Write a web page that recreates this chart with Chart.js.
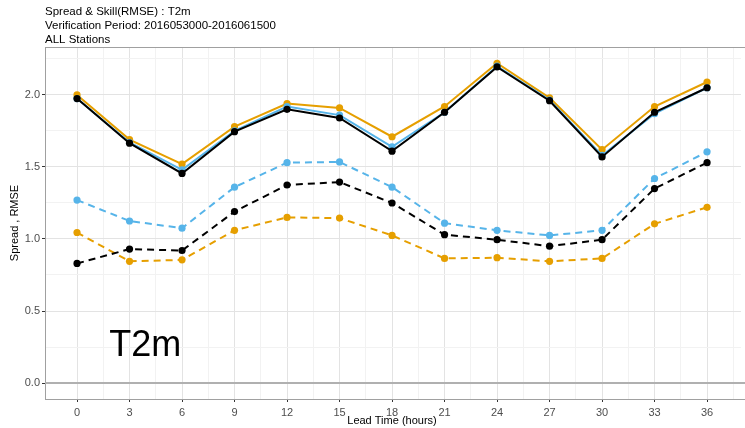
<!DOCTYPE html>
<html>
<head>
<meta charset="utf-8">
<script src="https://cdn.jsdelivr.net/npm/chart.js@4.4.1/dist/chart.umd.min.js"></script>
<style>
  html, body { margin: 0; padding: 0; background: #ffffff; }
  canvas { display: block; }
</style>
</head>
<body>
<canvas id="c" width="745" height="428"></canvas>
<script>
// ---- data ----
const leadTimes = [0, 3, 6, 9, 12, 15, 18, 21, 24, 27, 30, 33, 36];
const xTickLabels = ["0", "3", "6", "9", "12", "15", "18", "21", "24", "27", "30", "33", "36"];
const yTickValues = [0.0, 0.5, 1.0, 1.5, 2.0];
const yTickLabels = ["0.0", "0.5", "1.0", "1.5", "2.0"];

const rmseOrange   = [2.00, 1.69, 1.52, 1.78, 1.94, 1.91, 1.71, 1.92, 2.22, 1.98, 1.62, 1.92, 2.09];
const rmseBlue     = [1.975, 1.67, 1.48, 1.75, 1.92, 1.86, 1.64, 1.88, 2.20, 1.965, 1.58, 1.87, 2.05];
const rmseBlack    = [1.975, 1.665, 1.455, 1.745, 1.90, 1.84, 1.61, 1.88, 2.195, 1.96, 1.57, 1.88, 2.05];
const spreadBlue   = [1.27, 1.125, 1.075, 1.36, 1.53, 1.535, 1.36, 1.11, 1.06, 1.025, 1.06, 1.42, 1.605];
const spreadBlack  = [0.83, 0.93, 0.92, 1.19, 1.375, 1.395, 1.25, 1.03, 0.995, 0.95, 0.995, 1.35, 1.53];
const spreadOrange = [1.045, 0.845, 0.855, 1.06, 1.15, 1.145, 1.025, 0.865, 0.87, 0.845, 0.865, 1.105, 1.22];

const titleLines = ["Spread & Skill(RMSE) : T2m", "Verification Period: 2016053000-2016061500", "ALL Stations"];
const xTitle = "Lead Time (hours)";
const yTitle = "Spread , RMSE";
const panelLabel = "T2m";

// ---- styling ----
const ORANGE = "#E69F00", BLUE = "#56B4E9", BLACK = "#000000";
const FONT = "'Liberation Sans', Arial, sans-serif";

function pts(arr) { return leadTimes.map((x, i) => ({ x: x, y: arr[i] })); }
function ds(label, arr, color, dashed) {
  return {
    label: label,
    data: pts(arr),
    borderColor: color,
    backgroundColor: color,
    pointBackgroundColor: color,
    pointBorderColor: color,
    pointBorderWidth: 0,
    pointRadius: 3.6,
    borderWidth: 2,
    borderDash: dashed ? [7, 5] : [],
    tension: 0,
    fill: false
  };
}

// first dataset drawn on top
const datasets = [
  ds("RMSE black", rmseBlack, BLACK, false),
  ds("RMSE blue", rmseBlue, BLUE, false),
  ds("RMSE orange", rmseOrange, ORANGE, false),
  ds("Spread black", spreadBlack, BLACK, true),
  ds("Spread blue", spreadBlue, BLUE, true),
  ds("Spread orange", spreadOrange, ORANGE, true)
];

// minor positions between majors
const xMinor = leadTimes.slice(0, -1).map((v, i) => (v + leadTimes[i + 1]) / 2).concat([37.5]);
const yMinor = [0.25, 0.75, 1.25, 1.75, 2.25];

const isXMajor = v => leadTimes.some(t => Math.abs(t - v) < 1e-6);
const isYMajor = v => yTickValues.some(t => Math.abs(t - v) < 1e-6);

const decorPlugin = {
  id: "decor",
  beforeDatasetsDraw(chart) {
    const { ctx, chartArea: a, scales, width } = chart;
    ctx.save();
    // horizontal reference line at 0
    const y0 = scales.y.getPixelForValue(0);
    ctx.strokeStyle = "#b0b0b0";
    ctx.lineWidth = 2;
    ctx.beginPath();
    ctx.moveTo(a.left, y0);
    ctx.lineTo(width, y0);
    ctx.stroke();
    // panel top and bottom border, running off the right edge
    ctx.strokeStyle = "#a0a0a0";
    ctx.lineWidth = 1;
    ctx.beginPath();
    ctx.moveTo(a.left, a.top + 0.5);
    ctx.lineTo(width, a.top + 0.5);
    ctx.moveTo(a.left, a.bottom + 0.5);
    ctx.lineTo(width, a.bottom + 0.5);
    ctx.stroke();
    ctx.restore();
  },
  afterDraw(chart) {
    const { ctx, chartArea: a, scales } = chart;
    ctx.save();
    ctx.fillStyle = "#000000";
    ctx.textAlign = "left";
    ctx.textBaseline = "alphabetic";
    ctx.font = "11.5px " + FONT;
    titleLines.forEach((t, i) => ctx.fillText(t, 45, 15 + i * 14));
    // x title
    ctx.font = "11px " + FONT;
    ctx.textAlign = "center";
    ctx.textBaseline = "middle";
    ctx.fillText(xTitle, 392, 421);
    // y title
    ctx.save();
    ctx.translate(15, (a.top + a.bottom) / 2);
    ctx.rotate(-Math.PI / 2);
    ctx.fillText(yTitle, 0, 0);
    ctx.restore();
    // panel label
    ctx.font = "36px " + FONT;
    ctx.textAlign = "center";
    ctx.textBaseline = "alphabetic";
    ctx.fillText(panelLabel, scales.x.getPixelForValue(3.9), scales.y.getPixelForValue(0.19));
    ctx.restore();
  }
};

new Chart(document.getElementById("c"), {
  type: "line",
  data: { datasets: datasets },
  plugins: [decorPlugin],
  options: {
    responsive: false,
    animation: false,
    devicePixelRatio: 1,
    layout: { padding: { top: 47, right: 0, left: 0, bottom: 0 } },
    plugins: { legend: { display: false }, tooltip: { enabled: false }, title: { display: false } },
    scales: {
      x: {
        type: "linear",
        min: -1.83,
        max: 37.94,
        afterBuildTicks(scale) {
          scale.ticks = leadTimes.concat(xMinor).sort((p, q) => p - q).map(v => ({ value: v }));
        },
        afterFit(scale) { scale.height = 29; },
        ticks: {
          autoSkip: false,
          maxRotation: 0,
          padding: 4,
          color: "#4d4d4d",
          font: { family: FONT, size: 11 },
          callback(v) {
            const i = leadTimes.findIndex(t => Math.abs(t - v) < 1e-6);
            return i >= 0 ? xTickLabels[i] : "";
          }
        },
        grid: {
          color: c => isXMajor(c.tick.value) ? "#e3e3e3" : "#f2f2f2",
          lineWidth: 1,
          tickLength: 3,
          tickColor: c => isXMajor(c.tick.value) ? "#333333" : "rgba(0,0,0,0)"
        },
        border: { display: true, color: "#a0a0a0", width: 1 }
      },
      y: {
        type: "linear",
        min: -0.111,
        max: 2.333,
        afterBuildTicks(scale) {
          scale.ticks = yTickValues.concat(yMinor).sort((p, q) => p - q).map(v => ({ value: v }));
        },
        afterFit(scale) { scale.width = 45; },
        ticks: {
          autoSkip: false,
          padding: 2,
          color: "#4d4d4d",
          font: { family: FONT, size: 11 },
          callback(v) {
            const i = yTickValues.findIndex(t => Math.abs(t - v) < 1e-6);
            return i >= 0 ? yTickLabels[i] : "";
          }
        },
        grid: {
          color: c => isYMajor(c.tick.value) ? "#e3e3e3" : "#f2f2f2",
          lineWidth: 1,
          tickLength: 3,
          tickColor: c => isYMajor(c.tick.value) ? "#333333" : "rgba(0,0,0,0)"
        },
        border: { display: true, color: "#a0a0a0", width: 1 }
      }
    }
  }
});
</script>
</body>
</html>
